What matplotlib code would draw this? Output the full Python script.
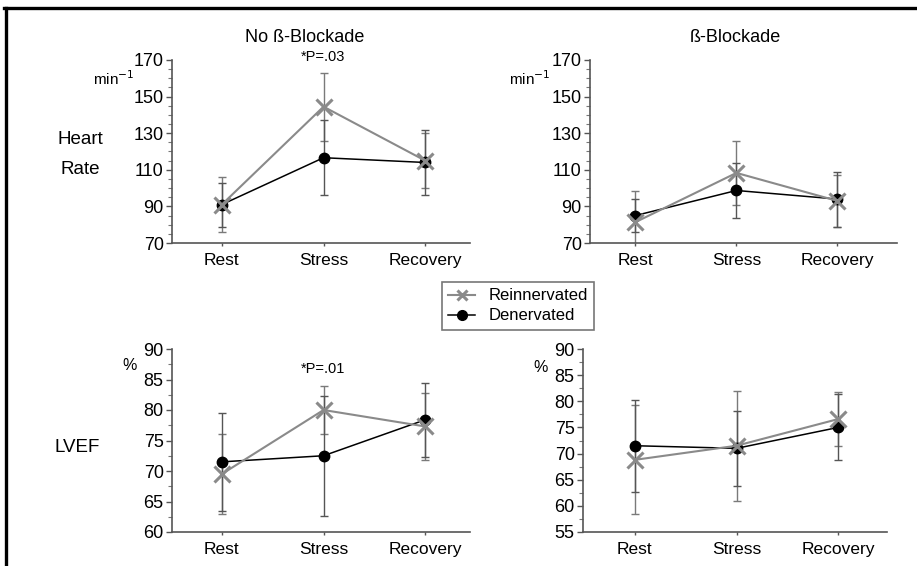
import matplotlib
matplotlib.use('Agg')
import matplotlib.pyplot as plt
from matplotlib.lines import Line2D
from matplotlib.ticker import MultipleLocator
import numpy as np

plt.rcParams['font.family'] = ['Liberation Sans', 'DejaVu Sans']

phases = ['Rest', 'Stress', 'Recovery']

# heart rate (min^-1), mean and SD
hr_reinn_nb = [91, 144.5, 115]
hr_reinn_nb_sd = [15, 18.5, 15]
hr_den_nb = [91, 116.6, 114]
hr_den_nb_sd = [12, 20.5, 18]
hr_reinn_b = [81.4, 108.3, 93]
hr_reinn_b_sd = [17, 17.6, 14]
hr_den_b = [85, 98.7, 94]
hr_den_b_sd = [9, 15, 15]

# LVEF (%), mean and SD
ef_reinn_nb = [69.5, 80.0, 77.3]
ef_reinn_nb_sd = [6.5, 4.0, 5.5]
ef_den_nb = [71.5, 72.5, 78.4]
ef_den_nb_sd = [8.0, 9.8, 6.1]
ef_reinn_b = [68.8, 71.5, 76.6]
ef_reinn_b_sd = [10.4, 10.5, 5.2]
ef_den_b = [71.5, 71.0, 75.0]
ef_den_b_sd = [8.8, 7.2, 6.3]

W, H = 917, 566
fig = plt.figure(figsize=(W / 100, H / 100), dpi=100)

def px(l, r, t, b):
    return [l / W, 1 - b / H, (r - l) / W, (b - t) / H]

ax_hr0 = fig.add_axes(px(172, 470, 60, 243))
ax_hr1 = fig.add_axes(px(590, 897, 60, 243))
ax_ef0 = fig.add_axes(px(172, 470, 349, 532))
ax_ef1 = fig.add_axes(px(583, 887, 349, 532))

GRAY = '#8a8a8a'
x = np.arange(3)

def panel(ax, reinn, reinn_sd, den, den_sd, ylim, major, minor, xlim):
    ax.errorbar(x, reinn, yerr=reinn_sd, fmt='none', ecolor='#7a7a7a',
                elinewidth=1.0, capsize=3, capthick=1.0, zorder=2)
    ax.errorbar(x, den, yerr=den_sd, fmt='none', ecolor='#555555',
                elinewidth=1.0, capsize=3, capthick=1.0, zorder=2)
    ax.plot(x, den, '-o', color='black', lw=1.1, ms=7.5, zorder=3,
            label='Denervated')
    ax.plot(x, reinn, '-x', color=GRAY, lw=1.5, ms=11, mew=2.2, zorder=4,
            label='Reinnervated')
    ax.set_ylim(*ylim)
    ax.set_xlim(*xlim)
    ax.set_yticks(np.arange(ylim[0], ylim[1] + 0.1, major))
    ax.yaxis.set_minor_locator(MultipleLocator(minor))
    ax.set_xticks(x)
    ax.set_xticklabels(phases)
    for s in ['top', 'right']:
        ax.spines[s].set_visible(False)
    for s in ['left', 'bottom']:
        ax.spines[s].set_color('#555555')
        ax.spines[s].set_linewidth(1.2)
    ax.tick_params(axis='y', which='major', length=4, width=1, color='#555555',
                   labelsize=13, pad=2)
    ax.tick_params(axis='y', which='minor', length=3, width=0.8, color='#777777')
    ax.tick_params(axis='x', length=2, width=1, color='#555555', labelsize=12.5, pad=5)

panel(ax_hr0, hr_reinn_nb, hr_reinn_nb_sd, hr_den_nb, hr_den_nb_sd,
      (70, 170), 20, 5, (-0.49, 2.44))
panel(ax_hr1, hr_reinn_b, hr_reinn_b_sd, hr_den_b, hr_den_b_sd,
      (70, 170), 20, 5, (-0.45, 2.59))
panel(ax_ef0, ef_reinn_nb, ef_reinn_nb_sd, ef_den_nb, ef_den_nb_sd,
      (60, 90), 5, 2.5, (-0.49, 2.44))
panel(ax_ef1, ef_reinn_b, ef_reinn_b_sd, ef_den_b, ef_den_b_sd,
      (55, 90), 5, 2.5, (-0.51, 2.48))

# column titles and p-values
fig.text(305 / W, 1 - 38 / H, 'No ß-Blockade', ha='center', va='center', fontsize=13)
fig.text(735 / W, 1 - 38 / H, 'ß-Blockade', ha='center', va='center', fontsize=13)
fig.text(323 / W, 1 - 57 / H, '*P=.03', ha='center', va='center', fontsize=10.5)
fig.text(323 / W, 1 - 369 / H, '*P=.01', ha='center', va='center', fontsize=10.5)

# units
fig.text(114 / W, 1 - 79 / H, 'min$^{\\mathsf{-1}}$', ha='center', va='center', fontsize=11)
fig.text(530 / W, 1 - 79 / H, 'min$^{\\mathsf{-1}}$', ha='center', va='center', fontsize=11)
fig.text(130 / W, 1 - 365 / H, '%', ha='center', va='center', fontsize=11.5)
fig.text(541 / W, 1 - 367 / H, '%', ha='center', va='center', fontsize=11.5)

# row labels
fig.text(80 / W, 1 - 140 / H, 'Heart', ha='center', va='center', fontsize=13.5)
fig.text(80 / W, 1 - 170 / H, 'Rate', ha='center', va='center', fontsize=13.5)
fig.text(77 / W, 1 - 447 / H, 'LVEF', ha='center', va='center', fontsize=13.5)

# shared legend between the rows
h, l = ax_hr0.get_legend_handles_labels()
leg = fig.legend(h[::-1], l[::-1], loc='center', bbox_to_anchor=(518 / W, 1 - 306 / H),
                 fontsize=12, frameon=True, fancybox=False, handlelength=1.6,
                 borderpad=0.4, labelspacing=0.3, handletextpad=0.8)
leg.get_frame().set_edgecolor('#555555')
leg.get_frame().set_linewidth(1.2)
for hd in leg.legend_handles:
    hd.set_markersize(7)

# page frame on top and left
fig.add_artist(Line2D([5.5 / W, 5.5 / W], [0, 1 - 8 / H], transform=fig.transFigure,
                      color='black', lw=2.4))
fig.add_artist(Line2D([4 / W, 1], [1 - 8 / H, 1 - 8 / H], transform=fig.transFigure,
                      color='black', lw=2.4))

fig.savefig('out.png', dpi=100)
